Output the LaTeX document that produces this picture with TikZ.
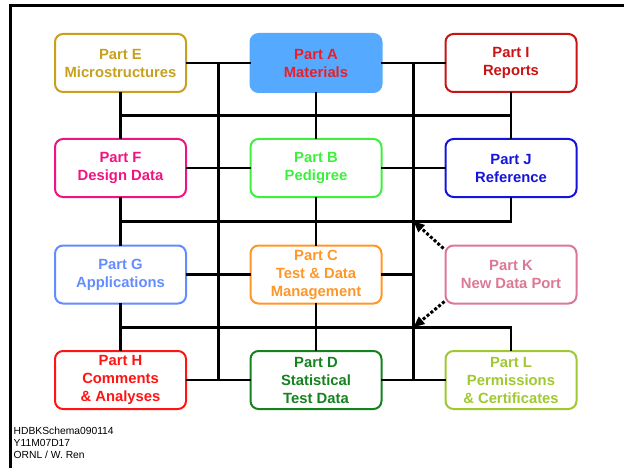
\documentclass[tikz,border=0pt]{standalone}
\usepackage{fontspec}
\setmainfont{Liberation Sans}
\usepackage{xcolor}
\usetikzlibrary{arrows.meta, positioning, calc}

\definecolor{colE}{RGB}{200,160,30}
\definecolor{colA}{RGB}{85,170,255}
\definecolor{colAt}{RGB}{235,30,40}
\definecolor{colI}{RGB}{200,20,20}
\definecolor{colF}{RGB}{240,20,130}
\definecolor{colB}{RGB}{60,240,60}
\definecolor{colJ}{RGB}{20,20,220}
\definecolor{colG}{RGB}{100,140,255}
\definecolor{colC}{RGB}{255,150,40}
\definecolor{colK}{RGB}{220,120,150}
\definecolor{colH}{RGB}{255,20,20}
\definecolor{colD}{RGB}{20,130,30}
\definecolor{colL}{RGB}{160,200,50}

\begin{document}
\begin{tikzpicture}[
        x=1pt, y=-1pt,
        part/.style={rectangle, rounded corners=8pt, draw=#1, text=#1, line width=2pt, minimum width=131pt, minimum height=58pt, align=center, font={\fontsize{14.8}{18}\selectfont\bfseries}},
        link/.style={line width=2.7pt, line cap=rect},
        port/.style={line width=3pt, dotted, -{Triangle[length=11pt,width=9pt]}},
        frame/.style={line width=3pt}
    ]
        \useasboundingbox (0,0) rectangle (624,468);
        \draw [frame] (10.5,468) -- (10.5,5.5) -- (624,5.5);

        % Row 1
        \node (e) [part=colE] at (120.5, 63) {Part E \\ Microstructures};
        \node (a) [part=colA, fill=colA, text=colAt] at (316, 63) {Part A \\ Materials};
        \node (i) [part=colI] at (511, 63) {Part I \\ Reports};

        % Row 2
        \node (f) [part=colF] at (120.5, 168) {Part F \\ Design Data};
        \node (b) [part=colB] at (316, 168) {Part B \\ Pedigree};
        \node (j) [part=colJ] at (511, 168) {Part J \\ Reference};

        % Row 3
        \node (g) [part=colG] at (120.5, 274.5) {Part G \\ Applications};
        \node (c) [part=colC] at (316, 274.5) {Part C \\ Test \& Data \\ Management};
        \node (k) [part=colK] at (511, 274.5) {Part K \\ New Data Port};

        % Row 4
        \node (h) [part=colH] at (120.5, 380) {Part H \\ Comments \\ \& Analyses};
        \node (d) [part=colD] at (316, 380) {Part D \\ Statistical \\ Test Data};
        \node (l) [part=colL] at (511, 380) {Part L \\ Permissions \\ \& Certificates};

        % Grid points
        \coordinate (v1top) at ($(e.east)!0.5!(a.west)$);
        \coordinate (v2top) at ($(a.east)!0.5!(i.west)$);
        \coordinate (v1bot) at ($(h.east)!0.5!(d.west)$);
        \coordinate (v2bot) at ($(d.east)!0.5!(l.west)$);
        \coordinate (bus1) at ($(e.south)!0.5!(f.north)$);
        \coordinate (bus2) at ($(f.south)!0.5!(g.north)$);
        \coordinate (bus3) at ($(g.south)!0.5!(h.north)$);

        % Vertical trunks
        \draw [link] (v1top) -- (v1bot);
        \draw [link] (v2top) -- (v2bot);

        % Row links
        \draw [link] (e) -- (a);
        \draw [link] (a) -- (i);
        \draw [link] (f) -- (b);
        \draw [link] (b) -- (j);
        \draw [link] (g) -- (c);
        \draw [link] (c.east) -- (c.east -| v2top);
        \draw [link] (h) -- (d);
        \draw [link] (d) -- (l);

        % Column links
        \draw [link] (e) -- (f);
        \draw [link] (a) -- (b);
        \draw [link] (i) -- (j);
        \draw [link] (f) -- (g);
        \draw [link] (b) -- (c);
        \draw [link] (g) -- (h);
        \draw [link] (c) -- (d);

        % Buses
        \draw [link] (bus1) -- (bus1 -| i.south);
        \draw [link] (j.south) |- (bus2);
        \draw [link] (l.north) |- (bus3);

        % New data port
        \draw [port] ([xshift=-1pt, yshift=-4pt]k.north west) -- (bus2 -| v2top);
        \draw [port] ([xshift=0pt, yshift=3pt]k.south west) -- (bus3 -| v2top);

        % Footer
        \node (footer) [anchor=north west, inner sep=0pt, align=left, font={\fontsize{10.3}{12}\selectfont}] at (13.5, 427) {HDBKSchema090114 \\ Y11M07D17 \\ ORNL / W. Ren};
    \end{tikzpicture}
\end{document}
